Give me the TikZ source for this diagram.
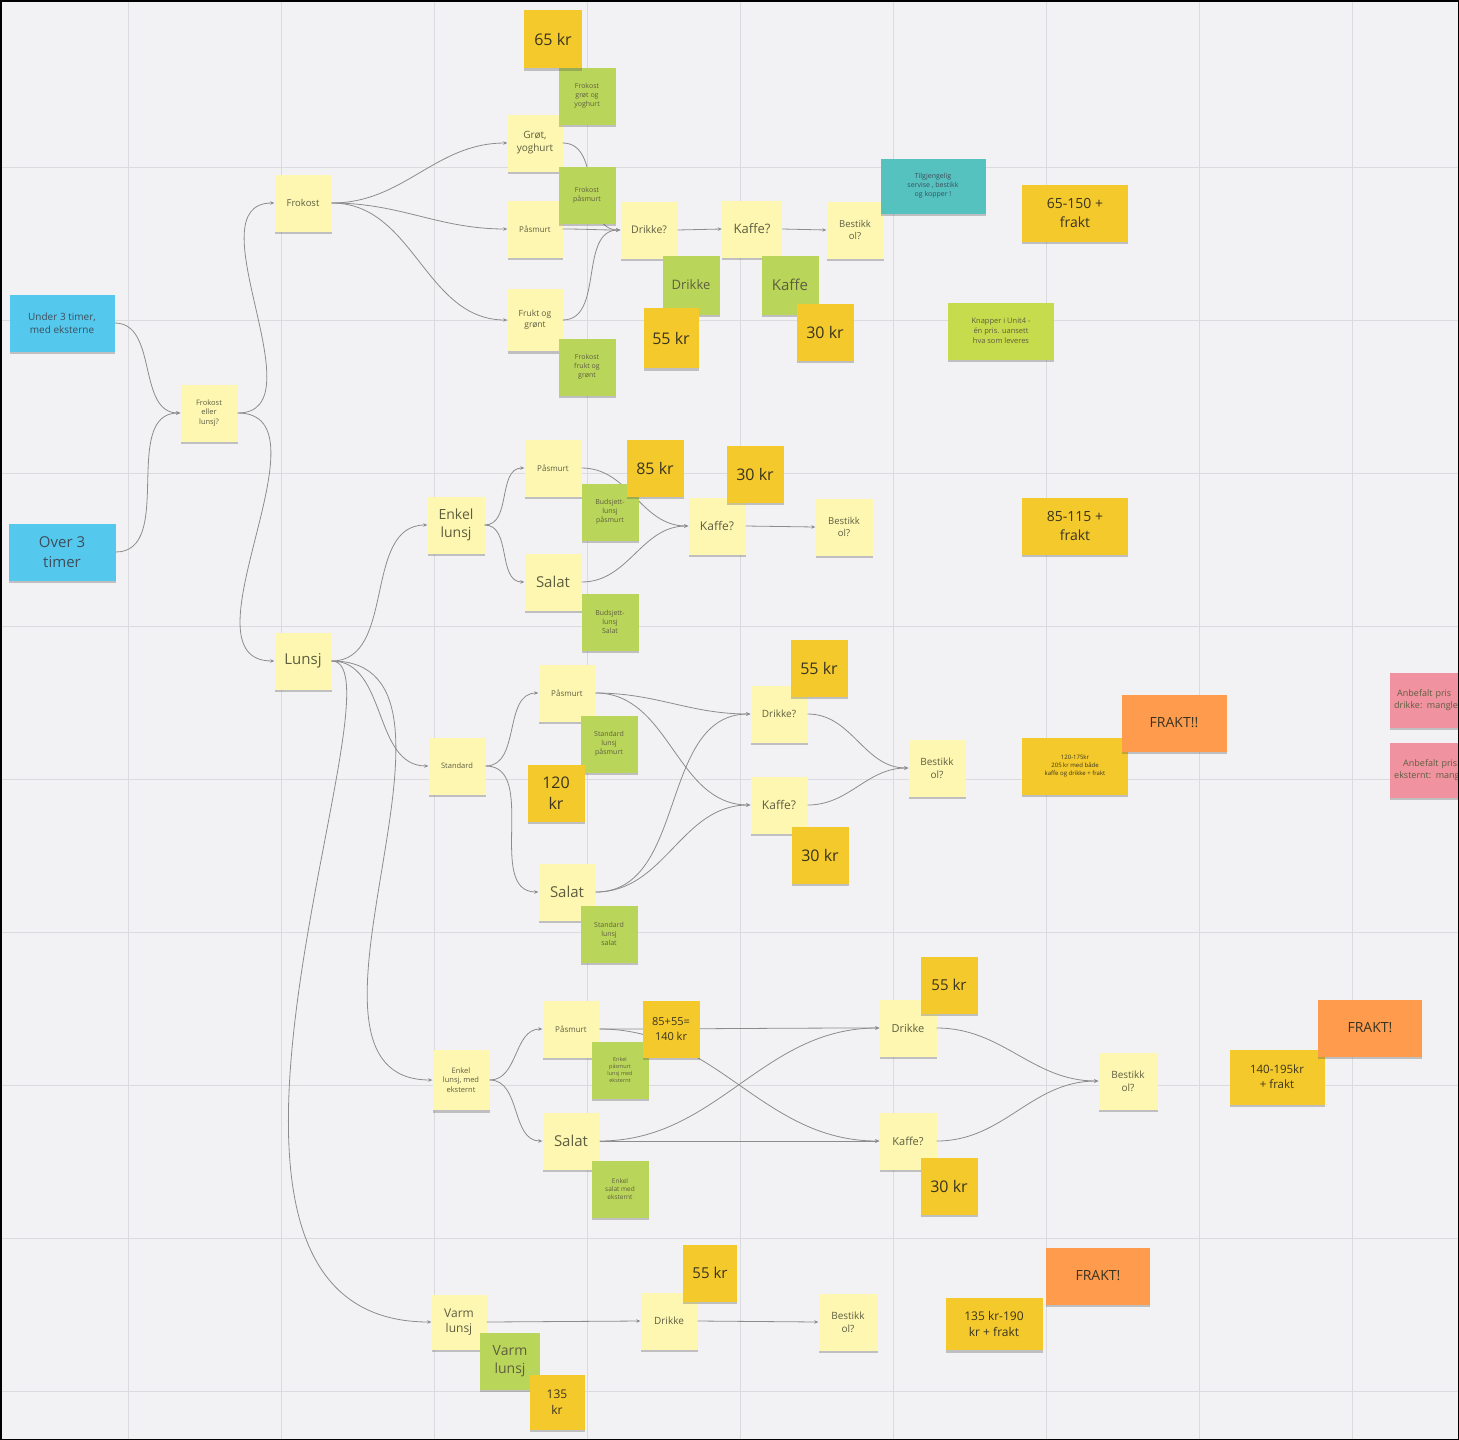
\documentclass[tikz,border=0pt]{standalone}
\usepackage{fontspec}
\setmainfont{Open Sans}
\usetikzlibrary{arrows.meta,shadows}
\definecolor{bgc}{HTML}{F2F2F4}
\definecolor{gridc}{HTML}{DADADF}
\definecolor{lyel}{HTML}{FEF7B2}
\definecolor{pyel}{HTML}{F4C92C}
\definecolor{grn}{HTML}{BAD65A}
\definecolor{lime}{HTML}{C6DC4C}
\definecolor{blu}{HTML}{55C8EE}
\definecolor{teal}{HTML}{55C2C0}
\definecolor{orng}{HTML}{FF9B4C}
\definecolor{pnk}{HTML}{F0929F}
\definecolor{txt}{HTML}{5E5E40}
\definecolor{btxt}{HTML}{3E4E5C}
\definecolor{dtxt}{HTML}{3A3420}
\definecolor{linec}{HTML}{8C8C8C}
\newcommand{\fsz}[1]{\fontsize{#1}{\fpeval{1.3*#1}}\selectfont}
\tikzset{
  note/.style={rectangle, inner sep=2pt, align=center, minimum width=57pt, minimum height=57pt,
    drop shadow={shadow xshift=0pt, shadow yshift=-2.5pt, opacity=0.3, fill=black!70}},
  ly/.style={note, fill=lyel, text=txt, font=\fsz{9}},
  gr/.style={note, fill=grn, text=txt, font=\fsz{7}},
  pr/.style={note, fill=pyel, text=dtxt, font=\fsz{16}},
  wide/.style={minimum width=106pt},
  conn/.style={draw=linec, line width=0.8pt, -{Stealth[length=4pt,width=3.5pt]}},
  cv/.style={out=0, in=180}
}
\begin{document}
\begin{tikzpicture}[x=1pt,y=-1pt]
\useasboundingbox (0,0) rectangle (1459,1440);
\clip (0,0) rectangle (1459,1440);
% background and grid
\fill[bgc] (0,0) rectangle (1459,1440);
\foreach \gx in {128,281,434,587,740,893,1046,1199,1352}
  \draw[gridc, line width=1pt] (\gx,0) -- (\gx,1440);
\foreach \gy in {167,320,473,626,779,932,1085,1238,1391}
  \draw[gridc, line width=1pt] (0,\gy) -- (1459,\gy);

% ---------- light yellow nodes ----------
\node[ly, font=\fsz{7.5}] (fel) at (209,413) {Frokost\\eller\\lunsj?};
\node[ly, font=\fsz{9.5}] (frokost) at (303,203) {Frokost};
\node[ly, font=\fsz{15}] (lunsj) at (303,661) {Lunsj};
\node[ly, font=\fsz{10}, minimum width=55pt] (grot) at (535,143) {Grøt,\\yoghurt};
\node[ly, font=\fsz{8}, minimum width=55pt] (pasmurtF) at (535,229) {Påsmurt};
\node[ly, font=\fsz{8.5}, minimum width=55pt, minimum height=62pt] (fruktog) at (535,320) {Frukt og\\grønt};
\node[ly, font=\fsz{10.5}] (drikkeF) at (649,230) {Drikke?};
\node[ly, font=\fsz{13}, minimum width=60pt] (kaffeF) at (752,229) {Kaffe?};
\node[ly, font=\fsz{9.5}] (bestikkF) at (855,230) {Bestikk\\ol?};

\node[ly, font=\fsz{14}] (enkel) at (456,525) {Enkel\\lunsj};
\node[ly, font=\fsz{8}] (pasmurtE) at (553,468) {Påsmurt};
\node[ly, font=\fsz{15}] (salatE) at (553,582) {Salat};
\node[ly, font=\fsz{12}] (kaffeE) at (717,526) {Kaffe?};
\node[ly, font=\fsz{9.5}] (bestikkE) at (844,527) {Bestikk\\ol?};

\node[ly, font=\fsz{7.5}] (standard) at (457,766) {Standard};
\node[ly, font=\fsz{8}] (pasmurtS) at (567,693) {Påsmurt};
\node[ly, font=\fsz{15}] (salatS) at (567,892) {Salat};
\node[ly, font=\fsz{10}] (drikkeS) at (779,714) {Drikke?};
\node[ly, font=\fsz{12}] (kaffeS) at (779,805) {Kaffe?};
\node[ly, font=\fsz{10}] (bestikkS) at (937,768) {Bestikk\\ol?};

\node[ly, font=\fsz{7.5}, minimum height=60pt] (eksternt) at (461,1080) {Enkel\\lunsj, med\\eksternt};
\node[ly, font=\fsz{8}] (pasmurtX) at (571,1029) {Påsmurt};
\node[ly, font=\fsz{15}] (salatX) at (571,1141) {Salat};
\node[ly, font=\fsz{11}] (drikkeX) at (908,1028) {Drikke};
\node[ly, font=\fsz{11}] (kaffeX) at (908,1141) {Kaffe?};
\node[ly, font=\fsz{10}, minimum width=59pt] (bestikkX) at (1128,1081) {Bestikk\\ol?};

\node[ly, font=\fsz{12}, minimum width=55pt, minimum height=55pt] (varm) at (459,1322) {Varm\\lunsj};
\node[ly, font=\fsz{10}] (drikkeV) at (669,1321) {Drikke};
\node[ly, font=\fsz{10}, minimum width=59pt] (bestikkV) at (848,1322) {Bestikk\\ol?};

% ---------- blue nodes ----------
\node[note, fill=blu, text=btxt, font=\fsz{10}, minimum width=105pt] (under3) at (62,323) {Under 3 timer,\\med eksterne};
\node[note, fill=blu, text=btxt, font=\fsz{15}, minimum width=107pt] (over3) at (62,552) {Over 3\\timer};

% ---------- connectors ----------
\draw[conn] (under3.east) to[cv] (fel.west);
\draw[conn] (over3.east) to[cv] (fel.west);
\draw[conn] (fel.east) to[cv] (frokost.west);
\draw[conn] (fel.east) to[cv] (lunsj.west);

\draw[conn] (frokost.east) to[cv] (grot.west);
\draw[conn] (frokost.east) to[cv] (pasmurtF.west);
\draw[conn] (frokost.east) to[cv] (fruktog.west);
\draw[conn] (grot.east) to[cv] (drikkeF.west);
\draw[conn] (pasmurtF.east) to[cv] (drikkeF.west);
\draw[conn] (fruktog.east) to[cv] (drikkeF.west);
\draw[conn] (drikkeF.east) -- (kaffeF.west);
\draw[conn] (kaffeF.east) -- (bestikkF.west);

\draw[conn] (lunsj.east) to[cv] (enkel.west);
\draw[conn] (lunsj.east) to[cv] (standard.west);
\draw[conn] (lunsj.east) to[cv] (eksternt.west);
\draw[conn] (lunsj.east) .. controls +(80,0) and +(-300,0) .. (varm.west);

\draw[conn] (enkel.east) to[cv] (pasmurtE.west);
\draw[conn] (enkel.east) to[cv] (salatE.west);
\draw[conn] (pasmurtE.east) to[cv] (kaffeE.west);
\draw[conn] (salatE.east) to[cv] (kaffeE.west);
\draw[conn] (kaffeE.east) -- (bestikkE.west);

\draw[conn] (standard.east) to[cv] (pasmurtS.west);
\draw[conn] (standard.east) to[cv] (salatS.west);
\draw[conn] (pasmurtS.east) to[cv] (drikkeS.west);
\draw[conn] (pasmurtS.east) to[cv] (kaffeS.west);
\draw[conn] (salatS.east) to[cv] (drikkeS.west);
\draw[conn] (salatS.east) to[cv] (kaffeS.west);
\draw[conn] (drikkeS.east) to[cv] (bestikkS.west);
\draw[conn] (kaffeS.east) to[cv] (bestikkS.west);

\draw[conn] (eksternt.east) to[cv] (pasmurtX.west);
\draw[conn] (eksternt.east) to[cv] (salatX.west);
\draw[conn] (pasmurtX.east) to[cv] (drikkeX.west);
\draw[conn] (pasmurtX.east) to[cv] (kaffeX.west);
\draw[conn] (salatX.east) to[cv] (drikkeX.west);
\draw[conn] (salatX.east) to[cv] (kaffeX.west);
\draw[conn] (drikkeX.east) to[cv] (bestikkX.west);
\draw[conn] (kaffeX.east) to[cv] (bestikkX.west);

\draw[conn] (varm.east) -- (drikkeV.west);
\draw[conn] (drikkeV.east) -- (bestikkV.west);

% ---------- green nodes ----------
\node[gr] (frokGrot) at (587,96) {Frokost\\grøt og\\yoghurt};
\node[gr] (frokPasmurt) at (587,195) {Frokost\\påsmurt};
\node[gr] (frokFrukt) at (587,367) {Frokost\\frukt og\\grønt};
\node[gr, font=\fsz{13}, minimum height=59pt] (drikkeG) at (691,285) {Drikke};
\node[gr, font=\fsz{15}, minimum height=59pt] (kaffeG) at (790,285) {Kaffe};
\node[gr] (budsjettP) at (610,512) {Budsjett-\\lunsj\\påsmurt};
\node[gr] (budsjettS) at (610,622) {Budsjett-\\lunsj\\Salat};
\node[gr] (standardP) at (609,744) {Standard\\lunsj\\påsmurt};
\node[gr] (standardS) at (609,934) {Standard\\lunsj\\salat};
\node[gr, font=\fsz{5.5}] (enkelPX) at (620,1070) {Enkel\\påsmurt\\lunsj med\\eksternt};
\node[gr, font=\fsz{6.5}] (enkelSX) at (620,1189) {Enkel\\salat med\\eksternt};
\node[gr, font=\fsz{14}, minimum width=60pt] (varmG) at (510,1361) {Varm\\lunsj};
\node[note, fill=lime, text=txt, font=\fsz{7.5}, minimum width=106pt] (knapper) at (1001,331) {Knapper i Unit4 -\\én pris. uansett\\hva som leveres};
\node[note, fill=teal, text=btxt, font=\fsz{7}, minimum width=105pt, minimum height=55pt] (tealnote) at (933,186) {Tilgjengelig\\servise , bestikk\\og kopper !};

% ---------- price nodes ----------
\node[pr, minimum width=58pt, minimum height=58pt] (p65) at (553,39) {65 kr};
\node[pr, minimum width=55pt, minimum height=60pt] (p55a) at (671,338) {55 kr};
\node[pr] (p30a) at (825,332) {30 kr};
\node[pr, wide, font=\fsz{14}] (p65150) at (1075,213) {65-150 +\\frakt};
\node[pr] (p85) at (655,468) {85 kr};
\node[pr] (p30b) at (755,474) {30 kr};
\node[pr, wide, font=\fsz{14}] (p85115) at (1075,526) {85-115 +\\frakt};
\node[pr] (p55b) at (819,668) {55 kr};
\node[pr] (p120) at (556,793) {120\\kr};
\node[pr] (p30c) at (820,855) {30 kr};
\node[pr, wide, font=\fsz{6}] (p120175) at (1075,766) {120-175kr\\205 kr med både\\kaffe og drikke + frakt};
\node[pr, font=\fsz{11}] (p140) at (671,1029) {85+55=\\140 kr};
\node[pr, font=\fsz{15}] (p55c) at (949,985) {55 kr};
\node[pr] (p30d) at (949,1186) {30 kr};
\node[pr, font=\fsz{11.5}, minimum width=95pt, minimum height=55pt] (p140195) at (1277,1077) {140-195kr\\+ frakt};
\node[pr, font=\fsz{12}, minimum width=55pt, minimum height=55pt] (p135) at (557,1402) {135\\kr};
\node[pr, font=\fsz{15}, minimum width=54pt] (p55d) at (710,1273) {55 kr};
\node[pr, font=\fsz{12}, minimum width=97pt, minimum height=52pt] (p135190) at (994,1324) {135 kr-190\\kr + frakt};

% ---------- orange nodes ----------
\node[note, fill=orng, text=dtxt, font=\fsz{14}, minimum width=105pt] (frakt1) at (1174,723) {FRAKT!!};
\node[note, fill=orng, text=dtxt, font=\fsz{14}, minimum width=104pt] (frakt2) at (1370,1028) {FRAKT!};
\node[note, fill=orng, text=dtxt, font=\fsz{14}, minimum width=104pt] (frakt3) at (1098,1276) {FRAKT!};

% ---------- pink nodes (cut off at right edge, as in the reference) ----------
\node[note, fill=pnk, text=txt, font=\fsz{9}, minimum width=105pt, minimum height=55pt, anchor=west, align=left, text width=97pt] (pink1) at (1390,700) {\ Anbefalt pris\\drikke: mangler};
\node[note, fill=pnk, text=txt, font=\fsz{9}, minimum width=105pt, minimum height=55pt, anchor=west, align=left, text width=97pt] (pink2) at (1390,770) {\ \ \ Anbefalt pris\\eksternt: mangler};

% border
\draw[black, line width=3pt] (0,0) rectangle (1459,1440);
\end{tikzpicture}
\end{document}
